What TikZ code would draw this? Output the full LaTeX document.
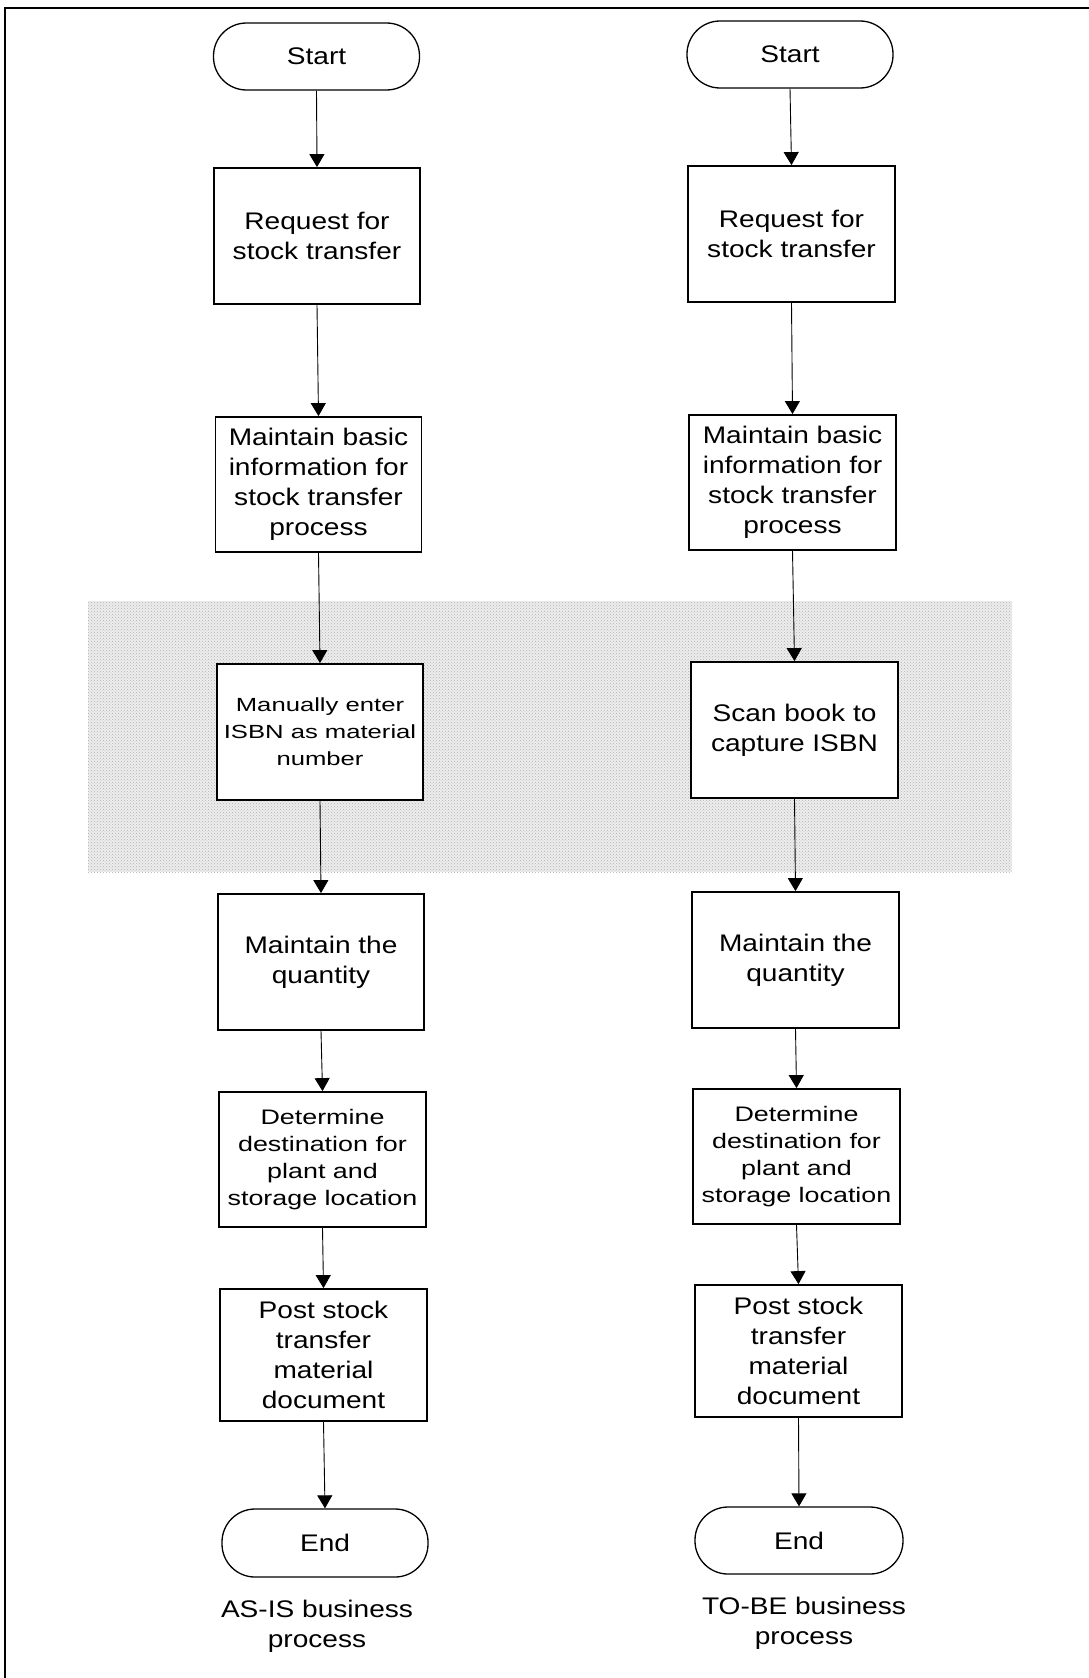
\documentclass[tikz,border=0pt]{standalone}
\usepackage{fontspec}
\setmainfont{Liberation Sans}
\newfontfamily\wideA{Liberation Sans}[FakeStretch=1.17]
\newfontfamily\wideB{Liberation Sans}[FakeStretch=1.28]
\newfontfamily\wideC{Liberation Sans}[FakeStretch=1.35]
\usetikzlibrary{arrows.meta,patterns}
\begin{document}
\begin{tikzpicture}[x=1pt,y=-1pt,
  every node/.style={inner sep=0pt},
  bigtext/.style={font=\wideA\fontsize{24}{30}\selectfont},
  smalltext/.style={font=\wideB\fontsize{21}{27}\selectfont},
  tinytext/.style={font=\wideC\fontsize{19}{27}\selectfont},
  procbox/.style={draw, fill=white, line width=1.8pt, rectangle,
    minimum width=206pt, minimum height=136pt, align=center},
  termbox/.style={draw, fill=white, line width=1.3pt, rectangle, rounded corners=33pt,
    minimum width=206pt, minimum height=67pt, bigtext},
  caption/.style={align=center, bigtext},
  flow/.style={line width=0.9pt, -{Triangle[width=15pt,length=13pt]}},
]
\useasboundingbox (0,0) rectangle (1089,1678);

% frame lines (left and top)
\draw[line width=2pt] (5,1678) -- (5,8) -- (1089,8);

% shaded band behind the ISBN step
\fill[black!7] (88,601) rectangle (1012,872);
\fill[pattern=crosshatch dots, pattern color=black!30] (88,601) rectangle (1012,872);

% AS-IS column
\node[termbox] (startL) at (316.5,56.5) {Start};
\node[procbox, bigtext] (reqL) at (317,236) {Request for\\stock transfer};
\node[procbox, bigtext, minimum height=135pt] (basicL) at (318.5,484.5) {Maintain basic\\information for\\stock transfer\\process};
\node[procbox, tinytext] (manL) at (320,732) {Manually enter\\ISBN as material\\number};
\node[procbox, bigtext] (qtyL) at (321,962) {Maintain the\\quantity};
\node[procbox, smalltext, minimum width=207pt, minimum height=135pt] (detL) at (322.5,1159.5) {Determine\\destination for\\plant and\\storage location};
\node[procbox, bigtext, minimum width=207pt, minimum height=132pt] (postL) at (323.5,1355) {Post stock\\transfer\\material\\document};
\node[termbox, minimum height=68pt] (endL) at (325,1543) {End};
\node[caption] (capL) at (317,1626) {AS-IS business\\process};

% TO-BE column
\node[termbox] (startR) at (790,54.5) {Start};
\node[procbox, bigtext, minimum width=207pt] (reqR) at (791.5,234) {Request for\\stock transfer};
\node[procbox, bigtext, minimum width=207pt, minimum height=135pt] (basicR) at (792.5,482.5) {Maintain basic\\information for\\stock transfer\\process};
\node[procbox, bigtext, minimum width=207pt] (scanR) at (794.5,730) {Scan book to\\capture ISBN};
\node[procbox, bigtext, minimum width=207pt] (qtyR) at (795.5,960) {Maintain the\\quantity};
\node[procbox, smalltext, minimum width=207pt, minimum height=135pt] (detR) at (796.5,1156.5) {Determine\\destination for\\plant and\\storage location};
\node[procbox, bigtext, minimum width=207pt, minimum height=132pt] (postR) at (798.5,1351) {Post stock\\transfer\\material\\document};
\node[termbox, minimum width=208pt] (endR) at (799,1540.5) {End};
\node[caption] (capR) at (804,1623.5) {TO-BE business\\process};

% connectors
\foreach \a/\b in {startL/reqL, reqL/basicL, basicL/manL, manL/qtyL, qtyL/detL, detL/postL, postL/endL,
                   startR/reqR, reqR/basicR, basicR/scanR, scanR/qtyR, qtyR/detR, detR/postR, postR/endR}
  \draw[flow] (\a.south) -- (\b.north);
\end{tikzpicture}
\end{document}
